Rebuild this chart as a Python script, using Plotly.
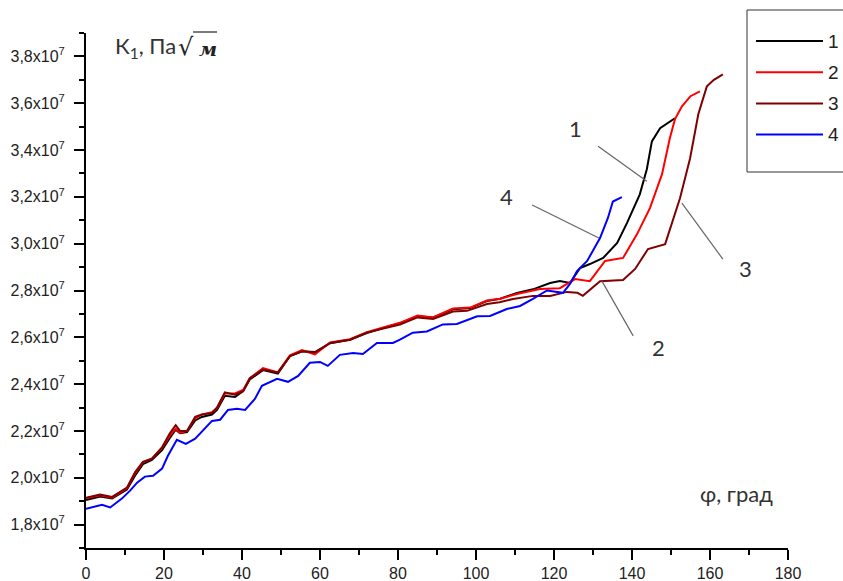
import plotly.graph_objects as go

SCALE = 1e7  # values below are in units of 10^7 Pa*sqrt(m)

# Curve 1 (black)
phi1 = [0, 3.6, 6.7, 10.5, 12.6, 14.6, 16.9, 19.5, 21.5, 23.0, 24.1, 25.9, 28, 29.7, 32.3, 33.6, 35.6, 38.2,
        40.3, 42, 45.4, 49.2, 52.3, 55.4, 58.7, 62.6, 67.7, 72, 76.2, 80.5, 85, 89, 94.1, 98.5, 102.8, 106.2,
        110.5, 114.6, 119, 121.5, 124.1, 126.7, 129.2, 132.6, 136.2, 138.7, 142, 143.8, 145.1, 147.2, 151]
k1_1 = [1.905, 1.92, 1.912, 1.95, 2.01, 2.058, 2.076, 2.118, 2.17, 2.205, 2.19, 2.195, 2.245, 2.26, 2.27, 2.29,
        2.35, 2.345, 2.37, 2.42, 2.46, 2.445, 2.52, 2.54, 2.537, 2.575, 2.59, 2.618, 2.64, 2.66, 2.69, 2.685,
        2.72, 2.725, 2.755, 2.765, 2.79, 2.805, 2.832, 2.84, 2.832, 2.896, 2.913, 2.939, 3.003, 3.088, 3.211,
        3.318, 3.437, 3.493, 3.536]

# Curve 2 (red)
phi2 = [0, 3.6, 6.7, 10.5, 12.6, 14.6, 16.9, 19.5, 21.5, 23.0, 24.1, 25.9, 28, 29.7, 32.3, 33.6, 35.6, 38.2,
        40.3, 42, 45.4, 49.2, 52.3, 55.4, 58.7, 62.6, 67.7, 72, 76.2, 80.5, 85, 89, 94.1, 98.5, 102.8, 106.2,
        110.5, 114.6, 116.4, 121.5, 123.3, 125.4, 129.2, 133.1, 137.7, 141.3, 144.6, 147.7, 149.7, 151, 152.8,
        155, 157.4]
k1_2 = [1.912, 1.925, 1.915, 1.955, 2.02, 2.066, 2.082, 2.128, 2.18, 2.21, 2.192, 2.2, 2.255, 2.27, 2.28, 2.298,
        2.36, 2.36, 2.375, 2.425, 2.468, 2.45, 2.523, 2.545, 2.527, 2.578, 2.592, 2.622, 2.642, 2.662, 2.693,
        2.685, 2.723, 2.727, 2.757, 2.765, 2.785, 2.798, 2.806, 2.81, 2.828, 2.849, 2.84, 2.926, 2.939, 3.041,
        3.152, 3.297, 3.45, 3.531, 3.587, 3.63, 3.651]

# Curve 3 (dark red)
phi3 = [0, 3.6, 6.7, 10.5, 12.6, 14.6, 16.9, 19.5, 21.5, 23.0, 24.1, 25.9, 28, 29.7, 32.3, 33.6, 35.6, 38.2,
        40.3, 42, 45.4, 49.2, 52.3, 55.4, 58.7, 62.6, 67.7, 72, 76.2, 80.5, 85, 89, 94.1, 97.7, 102.8, 106,
        109.5, 114.6, 119, 123.3, 126, 127.4, 131.8, 137.7, 140.8, 144.1, 148.5, 152.3, 154.9, 157, 158, 159.2,
        161, 163.3]
k1_3 = [1.915, 1.928, 1.918, 1.958, 2.025, 2.068, 2.082, 2.13, 2.19, 2.225, 2.2, 2.2, 2.26, 2.27, 2.277, 2.3,
        2.365, 2.355, 2.37, 2.425, 2.462, 2.45, 2.52, 2.54, 2.535, 2.576, 2.59, 2.62, 2.638, 2.655, 2.685, 2.678,
        2.71, 2.713, 2.742, 2.75, 2.764, 2.777, 2.777, 2.794, 2.79, 2.777, 2.84, 2.845, 2.892, 2.977, 2.998,
        3.194, 3.365, 3.553, 3.608, 3.672, 3.7, 3.723]

# Curve 4 (blue)
phi4 = [0, 4.1, 6.2, 9.2, 11.3, 13.1, 15.1, 17.2, 19.5, 21, 23.3, 25.6, 28, 30.5, 32.3, 34.4, 36.4, 38.7, 40.8,
        43.3, 45.1, 49, 51.8, 54.4, 57.4, 60, 62, 65.1, 68.5, 71, 74.6, 78.7, 80.5, 83.8, 87.4, 91.5, 95.1,
        100.3, 103.6, 107.9, 111.3, 114.6, 118.2, 122.3, 124.1, 125.9, 128.5, 131.8, 133.8, 135.1, 137.4]
k1_4 = [1.868, 1.885, 1.873, 1.911, 1.945, 1.979, 2.005, 2.009, 2.039, 2.094, 2.162, 2.145, 2.167, 2.209, 2.243,
        2.248, 2.29, 2.295, 2.29, 2.337, 2.393, 2.423, 2.41, 2.435, 2.491, 2.495, 2.478, 2.525, 2.533, 2.529,
        2.576, 2.576, 2.59, 2.62, 2.625, 2.655, 2.657, 2.69, 2.691, 2.721, 2.734, 2.764, 2.8, 2.79, 2.828,
        2.883, 2.926, 3.024, 3.109, 3.18, 3.199]

series_names = ["1", "2", "3", "4"]
series_colors = ["#000000", "#ff0000", "#800000", "#0000ff"]
series_x = [phi1, phi2, phi3, phi4]
series_y = [k1_1, k1_2, k1_3, k1_4]

y_ticks = [1.8, 2.0, 2.2, 2.4, 2.6, 2.8, 3.0, 3.2, 3.4, 3.6, 3.8]
y_ticktext = [f"{v:.1f}".replace(".", ",") + "x10<sup>7</sup>" for v in y_ticks]
x_ticks = [0, 20, 40, 60, 80, 100, 120, 140, 160, 180]

# Callout labels: (label, text x, text y, line start x, y, line end x, y) in data units
callouts = [
    ("1", 125.4, 3.493, 131.3, 3.416, 143.8, 3.267),
    ("4", 107.9, 3.203, 114.4, 3.165, 131.5, 3.024),
    ("3", 169.2, 2.896, 152.8, 3.173, 163.3, 2.934),
    ("2", 146.7, 2.555, 132.3, 2.84, 140.3, 2.606),
]

fig = go.Figure()
for name, color, xs, ys in zip(series_names, series_colors, series_x, series_y):
    fig.add_trace(go.Scatter(x=xs, y=[v * SCALE for v in ys], mode="lines", name=name,
                             line=dict(color=color, width=2), showlegend=False))

W, H = 843, 581
ML, MR, MT, MB = 86, 55, 33, 33
PW, PH = W - ML - MR, H - MT - MB


def px(xp):
    return (xp - ML) / PW


def py(yp):
    return (H - MB - yp) / PH


shapes = []
annotations = []
for lab, tx, ty, x0, y0, x1, y1 in callouts:
    shapes.append(dict(type="line", xref="x", yref="y", x0=x0, y0=y0 * SCALE, x1=x1, y1=y1 * SCALE,
                       line=dict(color="#666666", width=1.2)))
    annotations.append(dict(x=tx, y=ty * SCALE, xref="x", yref="y", text=lab, showarrow=False,
                            font=dict(family="Lato", size=22, color="#333333")))

# Manual legend
shapes.append(dict(type="rect", xref="paper", yref="paper", x0=px(747), x1=px(860), y0=py(172), y1=py(10),
                   line=dict(color="#333333", width=1), fillcolor="rgba(0,0,0,0)", layer="above"))
for i, (name, color) in enumerate(zip(series_names, series_colors)):
    yl = 41 + i * 31.2
    shapes.append(dict(type="line", xref="paper", yref="paper", x0=px(756), x1=px(823), y0=py(yl), y1=py(yl),
                       line=dict(color=color, width=2)))
    annotations.append(dict(x=px(826), y=py(yl), xref="paper", yref="paper", text=name, showarrow=False,
                            xanchor="left", yanchor="middle",
                            font=dict(family="Liberation Sans", size=19, color="#222222")))

# Axis titles
annotations.append(dict(x=px(113), y=py(47), xref="paper", yref="paper", text="К<sub>1</sub>, Па",
                        showarrow=False, xanchor="left", yanchor="middle",
                        font=dict(family="Lato", size=22, color="#333333")))
annotations.append(dict(x=px(176), y=py(47), xref="paper", yref="paper", text="√",
                        showarrow=False, xanchor="left", yanchor="middle",
                        font=dict(family="DejaVu Serif", size=24, color="#222222")))
annotations.append(dict(x=px(197), y=py(49), xref="paper", yref="paper", text="<b><i>м</i></b>",
                        showarrow=False, xanchor="left", yanchor="middle",
                        font=dict(family="DejaVu Serif", size=19, color="#222222")))
shapes.append(dict(type="line", xref="paper", yref="paper", x0=px(193), x1=px(217), y0=py(32), y1=py(32),
                   line=dict(color="#222222", width=1.2)))
annotations.append(dict(x=px(698), y=py(493), xref="paper", yref="paper", text="φ, град",
                        showarrow=False, xanchor="left", yanchor="middle",
                        font=dict(family="Lato", size=22, color="#333333")))

fig.update_layout(
    width=W, height=H,
    margin=dict(l=ML, r=MR, t=MT, b=MB, autoexpand=False),
    paper_bgcolor="white", plot_bgcolor="white",
    shapes=shapes, annotations=annotations,
    showlegend=False,
    xaxis=dict(range=[0, 180], tickmode="array", tickvals=x_ticks, ticks="outside", ticklen=10, tickwidth=2,
               tickcolor="black", showline=True, linecolor="black", linewidth=2, showgrid=False, zeroline=False,
               automargin=False,
               minor=dict(tickmode="linear", tick0=0, dtick=10, ticks="outside", ticklen=5, tickwidth=2,
                          tickcolor="black", showgrid=False),
               tickfont=dict(family="Liberation Sans", size=16, color="#222222")),
    yaxis=dict(range=[1.7 * SCALE, 3.9 * SCALE], tickmode="array", tickvals=[v * SCALE for v in y_ticks],
               ticktext=y_ticktext, ticks="outside", ticklen=10, tickwidth=2, tickcolor="black",
               showline=True, linecolor="black", linewidth=2, showgrid=False, zeroline=False,
               ticklabelstandoff=6, automargin=False,
               minor=dict(tickmode="linear", tick0=1.7 * SCALE, dtick=0.1 * SCALE, ticks="outside", ticklen=5,
                          tickwidth=2, tickcolor="black", showgrid=False),
               tickfont=dict(family="Liberation Sans", size=16, color="#222222")),
)

fig.write_html("out.html", config={"displayModeBar": False},
               post_script="document.body.style.margin='0';document.body.style.overflow='hidden';")
